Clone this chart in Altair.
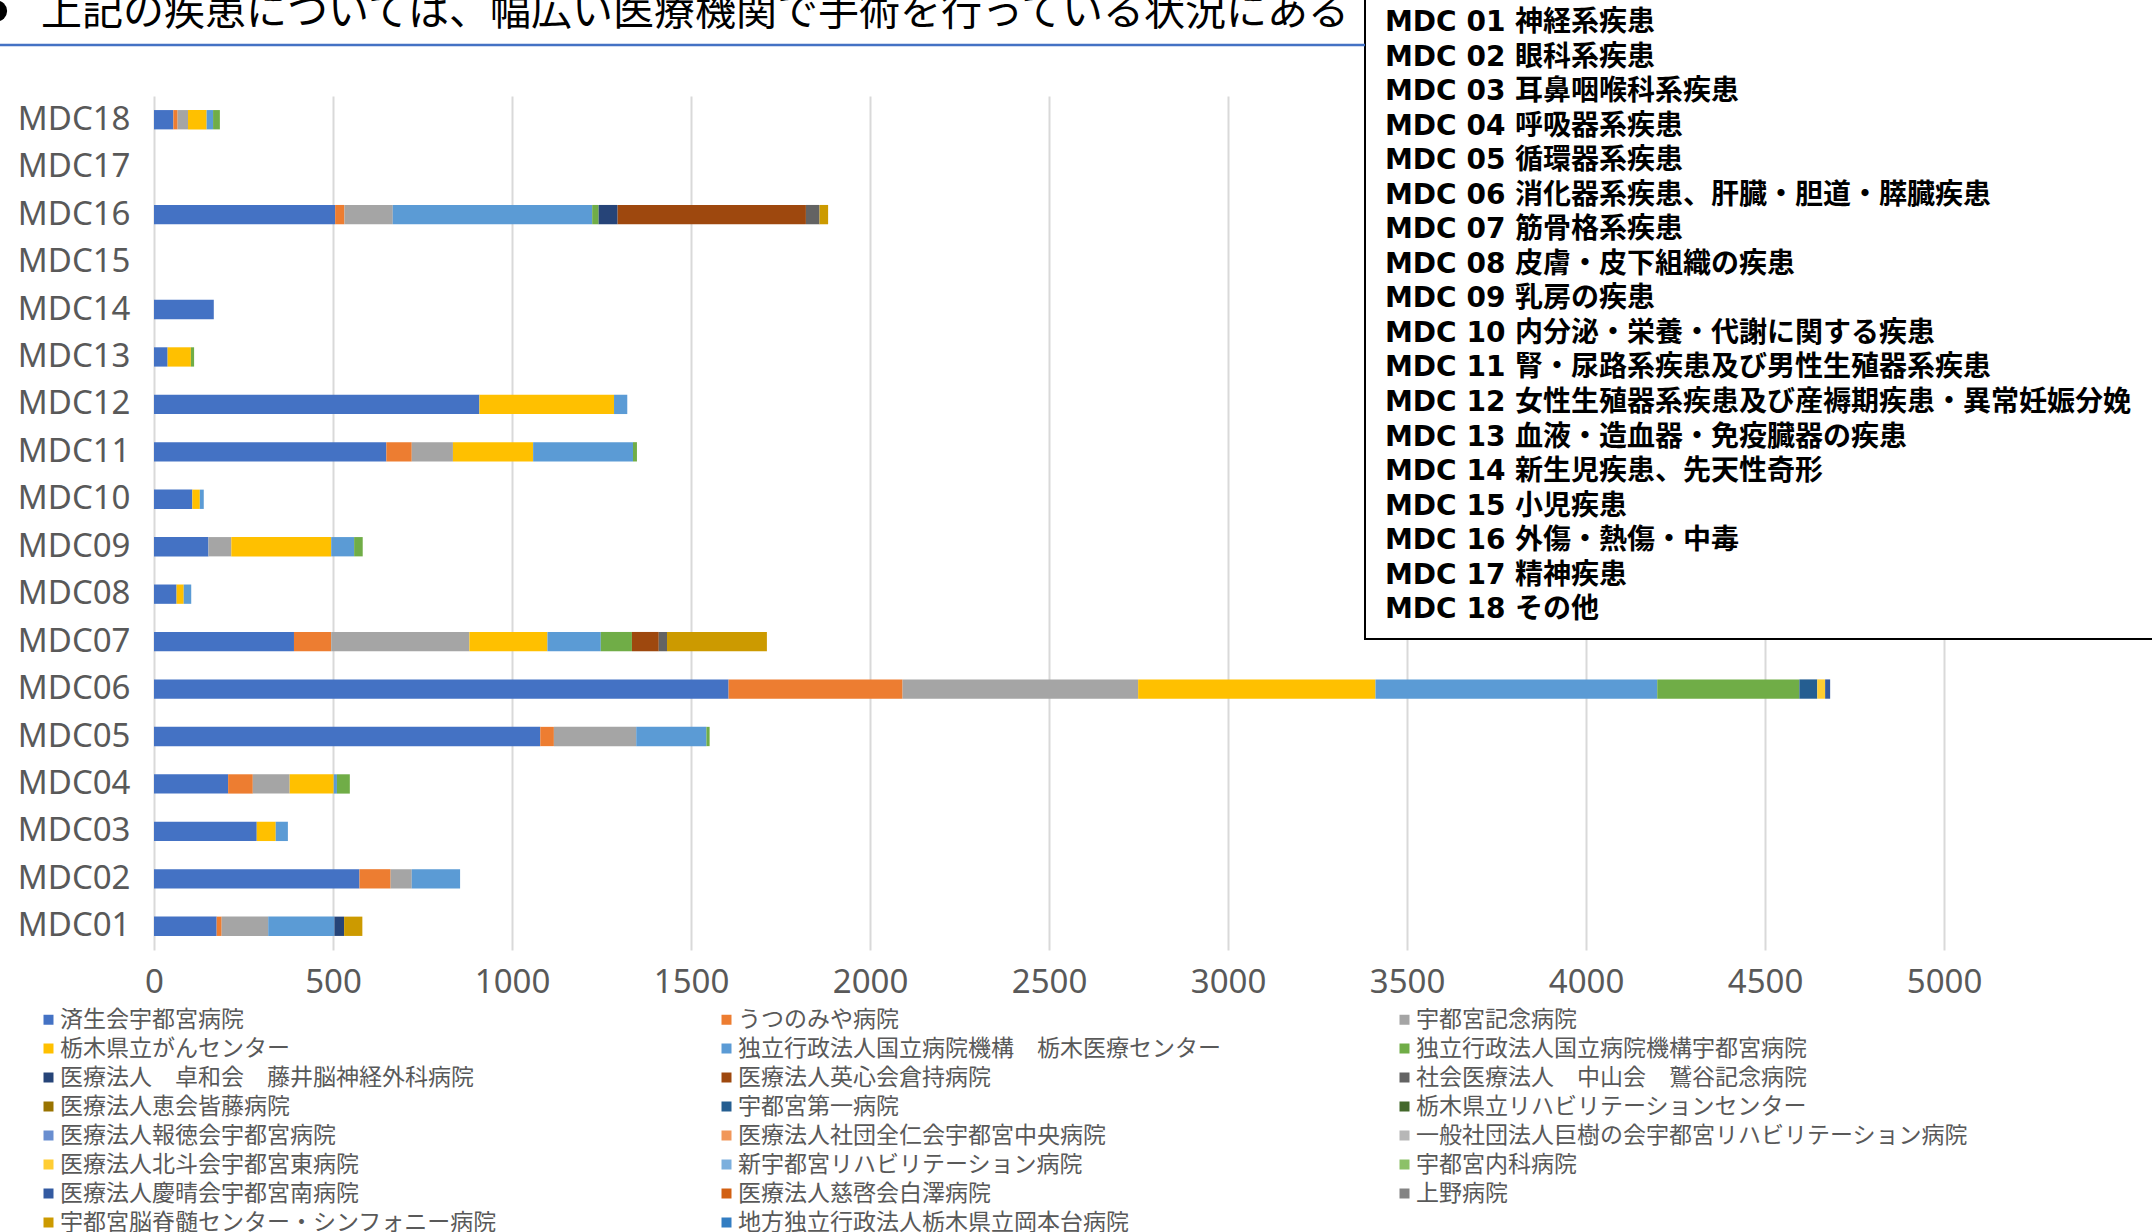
import altair as alt
import pandas as pd

# MDC categories (bottom to top on the chart)
mdc_codes = ["MDC01", "MDC02", "MDC03", "MDC04", "MDC05", "MDC06", "MDC07", "MDC08", "MDC09",
             "MDC10", "MDC11", "MDC12", "MDC13", "MDC14", "MDC15", "MDC16", "MDC17", "MDC18"]

mdc_titles = [
    "MDC 01 神経系疾患",
    "MDC 02 眼科系疾患",
    "MDC 03 耳鼻咽喉科系疾患",
    "MDC 04 呼吸器系疾患",
    "MDC 05 循環器系疾患",
    "MDC 06 消化器系疾患、肝臓・胆道・膵臓疾患",
    "MDC 07 筋骨格系疾患",
    "MDC 08 皮膚・皮下組織の疾患",
    "MDC 09 乳房の疾患",
    "MDC 10 内分泌・栄養・代謝に関する疾患",
    "MDC 11 腎・尿路系疾患及び男性生殖器系疾患",
    "MDC 12 女性生殖器系疾患及び産褥期疾患・異常妊娠分娩",
    "MDC 13 血液・造血器・免疫臓器の疾患",
    "MDC 14 新生児疾患、先天性奇形",
    "MDC 15 小児疾患",
    "MDC 16 外傷・熱傷・中毒",
    "MDC 17 精神疾患",
    "MDC 18 その他",
]

hospitals = [
    "済生会宇都宮病院",
    "うつのみや病院",
    "宇都宮記念病院",
    "栃木県立がんセンター",
    "独立行政法人国立病院機構　栃木医療センター",
    "独立行政法人国立病院機構宇都宮病院",
    "医療法人　卓和会　藤井脳神経外科病院",
    "医療法人英心会倉持病院",
    "社会医療法人　中山会　鷲谷記念病院",
    "医療法人恵会皆藤病院",
    "宇都宮第一病院",
    "栃木県立リハビリテーションセンター",
    "医療法人報徳会宇都宮病院",
    "医療法人社団全仁会宇都宮中央病院",
    "一般社団法人巨樹の会宇都宮リハビリテーション病院",
    "医療法人北斗会宇都宮東病院",
    "新宇都宮リハビリテーション病院",
    "宇都宮内科病院",
    "医療法人慶晴会宇都宮南病院",
    "医療法人慈啓会白澤病院",
    "上野病院",
    "宇都宮脳脊髄センター・シンフォニー病院",
    "地方独立行政法人栃木県立岡本台病院",
]

hospital_colors = [
    "#4472C4", "#ED7D31", "#A5A5A5", "#FFC000", "#5B9BD5", "#70AD47",
    "#264478", "#9E480E", "#636363", "#997300", "#255E91", "#43682B",
    "#698ED0", "#F1975A", "#B7B7B7", "#FFCD33", "#7CAFDD", "#8CC168",
    "#335AA1", "#D26012", "#848484", "#CC9A00", "#327DC2",
]

# Surgery counts per MDC, one entry per hospital (same order as `hospitals`)
mdc01 = [175, 14, 130, 0, 185, 0, 27, 0, 0, 0, 0, 0, 0, 0, 0, 0, 0, 0, 0, 0, 0, 51, 0]
mdc02 = [574, 87, 59, 0, 135, 0, 0, 0, 0, 0, 0, 0, 0, 0, 0, 0, 0, 0, 0, 0, 0, 0, 0]
mdc03 = [287, 0, 0, 53, 34, 0, 0, 0, 0, 0, 0, 0, 0, 0, 0, 0, 0, 0, 0, 0, 0, 0, 0]
mdc04 = [207, 69, 103, 123, 9, 36, 0, 0, 0, 0, 0, 0, 0, 0, 0, 0, 0, 0, 0, 0, 0, 0, 0]
mdc05 = [1079, 38, 230, 0, 196, 9, 0, 0, 0, 0, 0, 0, 0, 0, 0, 0, 0, 0, 0, 0, 0, 0, 0]
mdc06 = [1605, 486, 658, 663, 787, 397, 0, 0, 0, 0, 50, 0, 0, 0, 0, 22, 0, 0, 14, 0, 0, 0, 0]
mdc07 = [391, 104, 386, 218, 149, 87, 0, 75, 23, 0, 0, 0, 0, 0, 0, 0, 0, 0, 0, 0, 0, 279, 0]
mdc08 = [63, 0, 0, 20, 21, 0, 0, 0, 0, 0, 0, 0, 0, 0, 0, 0, 0, 0, 0, 0, 0, 0, 0]
mdc09 = [152, 0, 64, 279, 64, 24, 0, 0, 0, 0, 0, 0, 0, 0, 0, 0, 0, 0, 0, 0, 0, 0, 0]
mdc10 = [107, 0, 0, 21, 11, 0, 0, 0, 0, 0, 0, 0, 0, 0, 0, 0, 0, 0, 0, 0, 0, 0, 0]
mdc11 = [649, 71, 115, 224, 279, 11, 0, 0, 0, 0, 0, 0, 0, 0, 0, 0, 0, 0, 0, 0, 0, 0, 0]
mdc12 = [909, 0, 0, 376, 37, 0, 0, 0, 0, 0, 0, 0, 0, 0, 0, 0, 0, 0, 0, 0, 0, 0, 0]
mdc13 = [38, 0, 0, 65, 0, 9, 0, 0, 0, 0, 0, 0, 0, 0, 0, 0, 0, 0, 0, 0, 0, 0, 0]
mdc14 = [167, 0, 0, 0, 0, 0, 0, 0, 0, 0, 0, 0, 0, 0, 0, 0, 0, 0, 0, 0, 0, 0, 0]
mdc15 = [0, 0, 0, 0, 0, 0, 0, 0, 0, 0, 0, 0, 0, 0, 0, 0, 0, 0, 0, 0, 0, 0, 0]
mdc16 = [506, 26, 135, 0, 557, 18, 53, 526, 38, 0, 0, 0, 0, 0, 0, 0, 0, 0, 0, 0, 0, 24, 0]
mdc17 = [0, 0, 0, 0, 0, 0, 0, 0, 0, 0, 0, 0, 0, 0, 0, 0, 0, 0, 0, 0, 0, 0, 0]
mdc18 = [54, 12, 29, 52, 18, 19, 0, 0, 0, 0, 0, 0, 0, 0, 0, 0, 0, 0, 0, 0, 0, 0, 0]

x_ticks = [0, 500, 1000, 1500, 2000, 2500, 3000, 3500, 4000, 4500, 5000]

headline = "上記の疾患については、幅広い医療機関で手術を行っている状況にある"

series = [mdc01, mdc02, mdc03, mdc04, mdc05, mdc06, mdc07, mdc08, mdc09,
          mdc10, mdc11, mdc12, mdc13, mdc14, mdc15, mdc16, mdc17, mdc18]

rows = []
for code, vals in zip(mdc_codes, series):
    for idx, (name, v) in enumerate(zip(hospitals, vals)):
        if v > 0:
            rows.append({"mdc": code, "hospital": name, "idx": idx, "value": v})
df = pd.DataFrame(rows)

JP = "'Noto Sans CJK JP'"
LATIN = "'Noto Sans', 'Noto Sans CJK JP'"
GREY = "#595959"

bars = alt.Chart(df).mark_bar().encode(
    x=alt.X(
        "value:Q",
        stack="zero",
        scale=alt.Scale(domain=[0, 5000], nice=False),
        axis=alt.Axis(
            values=x_ticks, format="d", title=None, grid=True, gridColor="#D9D9D9",
            gridWidth=2, domain=False, ticks=False, labelFontSize=33, labelColor=GREY,
            labelFont=LATIN, labelPadding=16, labelFlush=False, labelOverlap=False,
        ),
    ),
    y=alt.Y(
        "mdc:N",
        scale=alt.Scale(domain=mdc_codes[::-1], paddingInner=0.593, paddingOuter=0.2965),
        axis=alt.Axis(
            title=None, domain=False, ticks=False, grid=False, labelFontSize=33,
            labelColor=GREY, labelFont=LATIN, labelPadding=24,
        ),
    ),
    color=alt.Color(
        "hospital:N",
        scale=alt.Scale(domain=hospitals, range=hospital_colors),
        legend=alt.Legend(
            title=None, orient="none", direction="horizontal", legendX=-117,
            legendY=912, columns=3, gridAlign="all", columnPadding=103, rowPadding=5.0,
            padding=0, symbolType="square", symbolSize=100, symbolStrokeWidth=0,
            labelFontSize=23, labelColor=GREY, labelFont=JP, labelLimit=800,
            labelOffset=0,
        ),
    ),
    order=alt.Order("idx:Q", sort="ascending"),
)

one = pd.DataFrame({"k": [0]})

# MDC key box at the upper right
key_box = alt.Chart(one).mark_rect(fill="white", stroke="black", strokeWidth=2).encode(
    x=alt.value(1211), x2=alt.value(2030), y=alt.value(-120), y2=alt.value(543)
)
key_text = alt.Chart(one).mark_text(
    align="left", baseline="alphabetic", font="'DejaVu Sans', 'Noto Sans CJK JP'",
    fontSize=28, fontWeight="bold", lineHeight=34.55, color="black", text=mdc_titles,
).encode(x=alt.value(1231), y=alt.value(-65))

# Headline with bullet and underline
head_text = alt.Chart(one).mark_text(
    align="left", baseline="alphabetic", font=JP, fontSize=41, color="black", text=headline,
).encode(x=alt.value(-113), y=alt.value(-71))
bullet = alt.Chart(one).mark_point(filled=True, shape="circle", size=450, color="black", opacity=1).encode(
    x=alt.value(-157.5), y=alt.value(-85)
)
underline = alt.Chart(one).mark_rule(color="#4472C4", strokeWidth=2.5).encode(
    x=alt.value(-154), x2=alt.value(1211), y=alt.value(-51)
)

chart = alt.layer(bars, key_box, key_text, underline, head_text, bullet).properties(
    width=1790,
    height=854,
    padding={"left": 154, "top": 96, "right": 208, "bottom": 282},
    autosize=alt.AutoSizeParams(type="none"),
    background="white",
).configure_view(strokeWidth=0)

chart.save("out.html", embed_options={"renderer": "svg", "actions": False})
